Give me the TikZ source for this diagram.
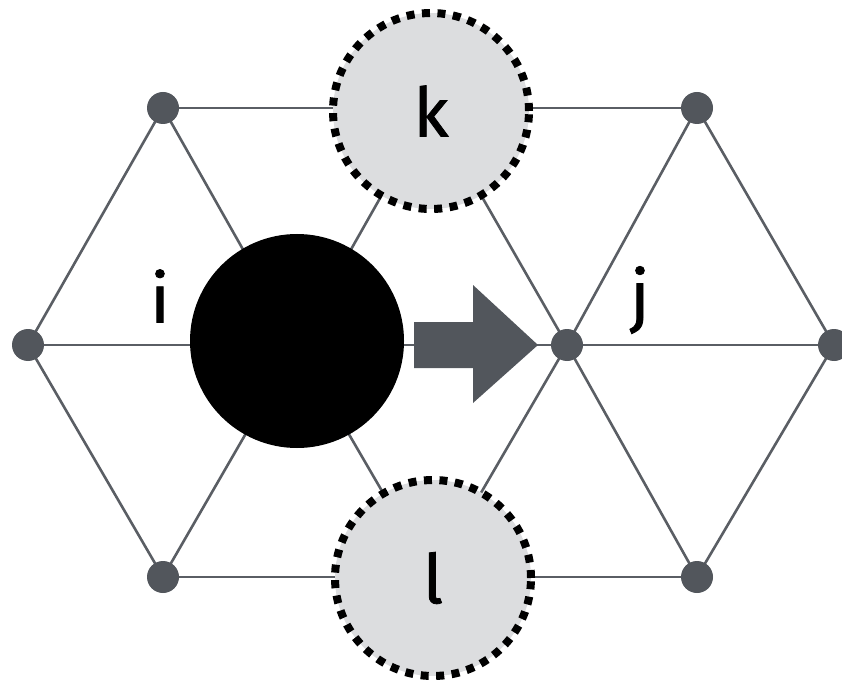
\documentclass[tikz,border=0pt]{standalone}
\usepackage{fontspec}
\setmainfont{Fira Sans}[FakeBold=1.2]
\definecolor{edgec}{HTML}{5A5E64}
\definecolor{dotc}{HTML}{52565C}
\definecolor{fillc}{HTML}{DCDDDF}
\definecolor{arrowc}{HTML}{52565C}
\begin{document}
\begin{tikzpicture}[x=1pt,y=-1pt,
  edge/.style={draw=edgec,line width=2.6pt},
  dot/.style={circle,fill=dotc,inner sep=0pt,minimum size=32pt},
  nbr/.style={circle,fill=fillc,draw=black,line width=8pt,dash pattern=on 8pt off 7.5pt,inner sep=0pt,minimum size=196pt,font=\fontsize{68}{68}\selectfont},
  lab/.style={font=\fontsize{68}{68}\selectfont,inner sep=0pt}]
\useasboundingbox (0,0) rectangle (842,684);
% lattice points
\coordinate (a) at (28,345);
\coordinate (b) at (163,108);
\coordinate (kc) at (431,108);
\coordinate (c) at (697,108);
\coordinate (d) at (834,345);
\coordinate (e) at (697,577);
\coordinate (lc) at (432,577);
\coordinate (f) at (163,577);
\coordinate (ic) at (297,345);
\coordinate (jc) at (567,345);
% edges
\draw[edge] (b) -- (c);
\draw[edge] (f) -- (e);
\draw[edge] (a) -- (d);
\draw[edge] (a) -- (b) -- (ic) -- (kc) -- (jc) -- (c) -- (d);
\draw[edge] (a) -- (f) -- (ic) -- (lc) -- (jc) -- (e) -- (d);
% dots
\foreach \p in {a,b,c,d,e,f,jc} \node[dot] at (\p) {};
% big node i
\node[circle,fill=black,inner sep=0pt,minimum size=214pt] (inode) at (297,341) {};
% neighbours
\node[nbr] (k) at (431,111) {k};
\node[nbr] (l) at (433,578) {l};
% labels
\node[lab] (ilab) at (160,296) {i};
\node[lab] (jlab) at (640,300) {j};
% arrow
\fill[arrowc] (414,322) -- (473,322) -- (473,285) -- (538,345) -- (473,403) -- (473,368) -- (414,368) -- cycle;
\end{tikzpicture}
\end{document}
